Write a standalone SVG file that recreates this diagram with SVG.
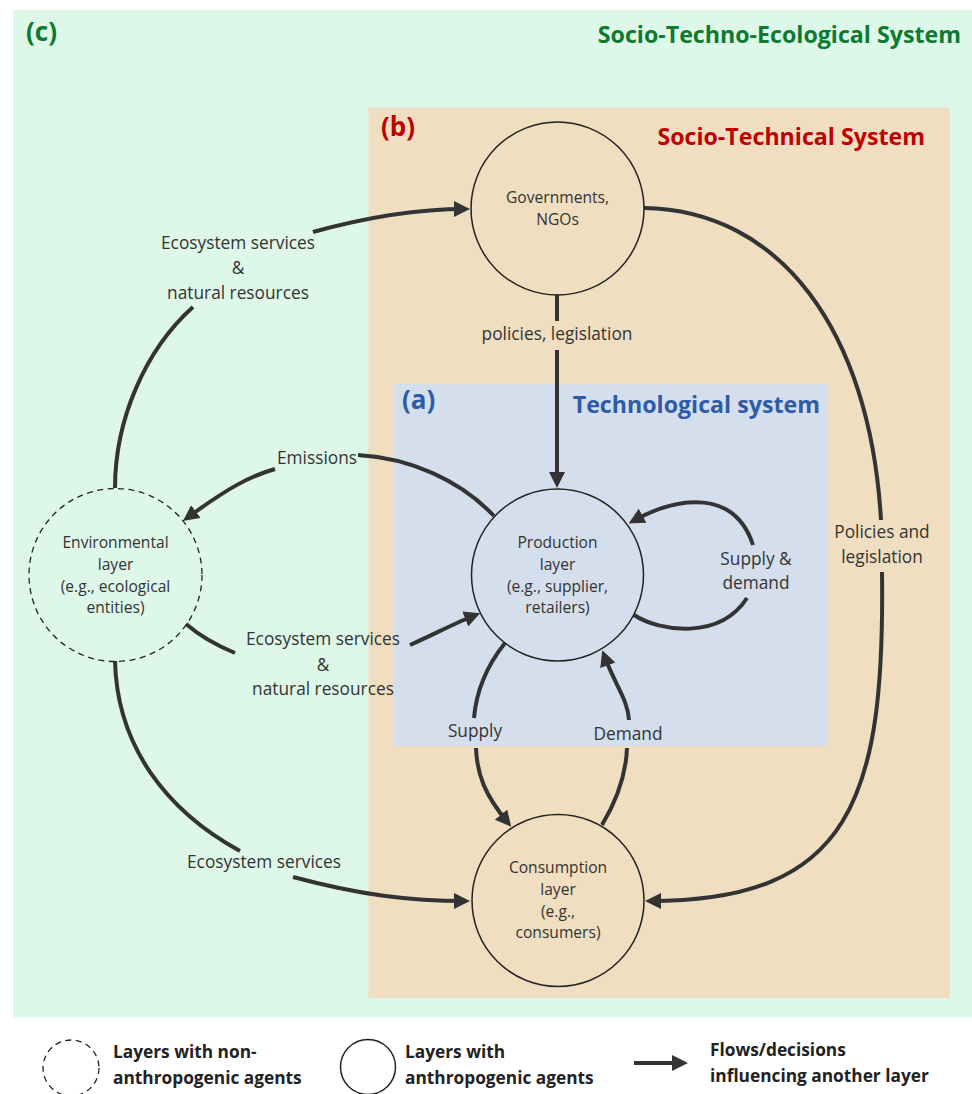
<svg xmlns="http://www.w3.org/2000/svg" width="972" height="1094" viewBox="0 0 972 1094">
  <style>
    .title { font-family: "Open Sans", "Liberation Sans", sans-serif; font-weight: 700; font-size: 23.2px; }
    .tag { font-family: "Open Sans", "Liberation Sans", sans-serif; font-weight: 700; font-size: 26px; }
    .green { fill: #0d7a2f; }
    .red { fill: #c00000; }
    .blue { fill: #2d5ba8; }
    .node { fill: none; stroke: #222; stroke-width: 1.5; }
    .dashed { stroke-dasharray: 6 4.5; stroke-width: 1.3; }
    .ntext { font-family: "Open Sans", "Liberation Sans", sans-serif; font-size: 15.6px; fill: #333; text-anchor: middle; }
    .label { font-family: "Open Sans", "Liberation Sans", sans-serif; font-size: 17.3px; fill: #333; text-anchor: middle; }
    .legend { font-family: "Open Sans", "Liberation Sans", sans-serif; font-weight: 700; font-size: 17.3px; fill: #222; }
    .flow { fill: none; stroke: #333; stroke-width: 4; }
    .arrow { marker-end: url(#head); }
  </style>
  <defs>
    <marker id="head" viewBox="0 0 16 16" refX="11" refY="8" markerWidth="16" markerHeight="16" markerUnits="userSpaceOnUse" orient="auto">
      <path d="M0,0 L16,8 L0,16 z" fill="#333"/>
    </marker>
  </defs>

  <!-- system boundaries -->
  <g id="system-c">
    <rect x="13" y="10" width="959" height="1007" fill="#ddf7e9"/>
    <text class="tag green" x="26" y="41">(c)</text>
    <text class="title green" x="961" y="43" text-anchor="end">Socio-Techno-Ecological System</text>
  </g>
  <g id="system-b">
    <rect x="368.5" y="107.5" width="581.5" height="890.5" fill="#efdec0"/>
    <text class="tag red" x="381" y="136">(b)</text>
    <text class="title red" x="925" y="145" text-anchor="end">Socio-Technical System</text>
  </g>
  <g id="system-a">
    <rect x="394" y="384" width="433" height="362" fill="#d4deec"/>
    <text class="tag blue" x="402" y="409">(a)</text>
    <text class="title blue" x="820" y="413" text-anchor="end">Technological system</text>
  </g>

  <!-- connectors -->
  <g id="connectors">
    <!-- environment to governments -->
    <path class="flow" d="M115,488 C115,420 145,350 193,307"/>
    <path class="flow arrow" d="M313,232 C360,219 410,209 465,209"/>
    <!-- governments to consumption -->
    <path class="flow" d="M644,208 C780,210 870,330 881,520"/>
    <path class="flow arrow" d="M882,572 C885,800 850,901 650,901"/>
    <!-- governments to production -->
    <path class="flow" d="M557,295 L557,321"/>
    <path class="flow arrow" d="M557,350 L557,483"/>
    <!-- production to environment -->
    <path class="flow" d="M494,516 C460,480 410,458 358,455"/>
    <path class="flow arrow" d="M275,469 C250,476 228,488 187,518"/>
    <!-- environment to production -->
    <path class="flow" d="M186,624 C200,636 218,646 235,653"/>
    <path class="flow arrow" d="M410,645 C435,634 455,623 475.5,615"/>
    <!-- production self-loop -->
    <path class="flow" d="M634,615 C660,632 720,640 747,598"/>
    <path class="flow arrow" d="M753,545 C735,490 680,495 633,521"/>
    <!-- supply -->
    <path class="flow" d="M505,643 C485,668 476,695 474,718"/>
    <path class="flow arrow" d="M476,748 C477,775 485,795 508,823"/>
    <!-- demand -->
    <path class="flow" d="M602,825 C617,800 626,775 627,748"/>
    <path class="flow arrow" d="M629,720 C628,700 615,685 604,655"/>
    <!-- environment to consumption -->
    <path class="flow" d="M115,661 C117,745 165,810 240,851"/>
    <path class="flow arrow" d="M293,877 C360,895 410,901 465,901"/>
  </g>

  <!-- connector labels -->
  <g id="connector-labels">
    <text class="label" x="238" y="249">Ecosystem services</text>
    <text class="label" x="238" y="274">&amp;</text>
    <text class="label" x="238" y="299">natural resources</text>
    <text class="label" x="557" y="340">policies, legislation</text>
    <text class="label" x="317" y="464">Emissions</text>
    <text class="label" x="323" y="645">Ecosystem services</text>
    <text class="label" x="323" y="671">&amp;</text>
    <text class="label" x="323" y="695">natural resources</text>
    <text class="label" x="756" y="565">Supply &amp;</text>
    <text class="label" x="756" y="589">demand</text>
    <text class="label" x="882" y="538">Policies and</text>
    <text class="label" x="882" y="563">legislation</text>
    <text class="label" x="475" y="737">Supply</text>
    <text class="label" x="628" y="740">Demand</text>
    <text class="label" x="264" y="868">Ecosystem services</text>
  </g>

  <!-- nodes -->
  <g id="governments">
    <circle class="node" cx="557.5" cy="208.5" r="86.5"/>
    <text class="ntext" x="557.5" y="203">Governments,</text>
    <text class="ntext" x="557.5" y="224.5">NGOs</text>
  </g>
  <g id="production">
    <circle class="node" cx="557.5" cy="575" r="86"/>
    <text class="ntext" x="557.5" y="548">Production</text>
    <text class="ntext" x="557.5" y="569.5">layer</text>
    <text class="ntext" x="557.5" y="591.5">(e.g., supplier,</text>
    <text class="ntext" x="557.5" y="613">retailers)</text>
  </g>
  <g id="environment">
    <circle class="node dashed" cx="115.5" cy="575" r="86.5"/>
    <text class="ntext" x="115.5" y="548">Environmental</text>
    <text class="ntext" x="115.5" y="569.5">layer</text>
    <text class="ntext" x="115.5" y="591.5">(e.g., ecological</text>
    <text class="ntext" x="115.5" y="613">entities)</text>
  </g>
  <g id="consumption">
    <circle class="node" cx="558" cy="900.5" r="86"/>
    <text class="ntext" x="558" y="873">Consumption</text>
    <text class="ntext" x="558" y="894.5">layer</text>
    <text class="ntext" x="558" y="916.5">(e.g.,</text>
    <text class="ntext" x="558" y="938">consumers)</text>
  </g>

  <!-- legend -->
  <g id="legend">
    <circle class="node dashed" cx="71" cy="1068" r="28"/>
    <text class="legend" x="113" y="1058">Layers with non-</text>
    <text class="legend" x="113" y="1084">anthropogenic agents</text>
    <circle class="node" cx="368" cy="1067" r="27.5"/>
    <text class="legend" x="405" y="1058">Layers with</text>
    <text class="legend" x="405" y="1084">anthropogenic agents</text>
    <path class="flow arrow" d="M634,1063 L683,1063"/>
    <text class="legend" x="710" y="1056">Flows/decisions</text>
    <text class="legend" x="710" y="1082">influencing another layer</text>
  </g>
</svg>
